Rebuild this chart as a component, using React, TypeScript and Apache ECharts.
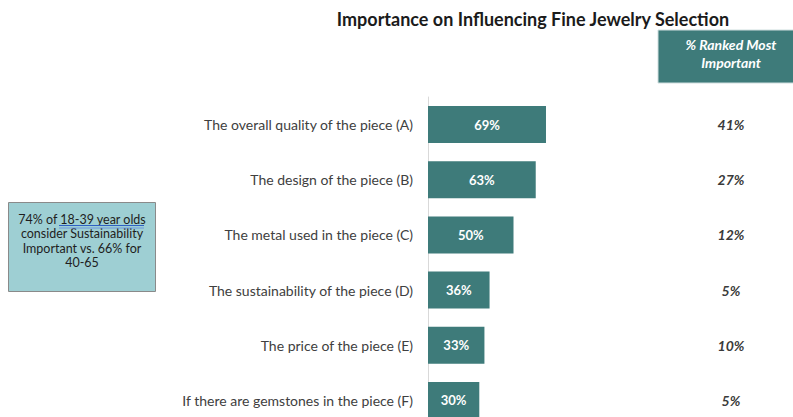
import React, { useEffect, useRef } from "react";
import * as echarts from "echarts";

const categories = [
  "The overall quality of the piece (A)",
  "The design of the piece (B)",
  "The metal used in the piece (C)",
  "The sustainability of the piece (D)",
  "The price of the piece (E)",
  "If there are gemstones in the piece (F)",
];
const importance = [69, 63, 50, 36, 33, 30];
const rankedMost = [41, 27, 12, 5, 10, 5];
const noteLines = [
  "74% of 18-39 year olds",
  "consider Sustainability",
  "Important vs. 66% for",
  "40-65",
];

const TEAL = "#3e7b7a";

export default function App() {
  const ref = useRef<HTMLDivElement>(null);
  useEffect(() => {
    if (!ref.current) return;
    const chart = echarts.init(ref.current, null, { renderer: "svg" });
    const font = "Lato, 'Open Sans', sans-serif";
    chart.setOption({
      animation: false,
      backgroundColor: "#ffffff",
      title: {
        text: "Importance on Influencing Fine Jewelry Selection",
        left: 528,
        textAlign: "center",
        top: 5,
        textStyle: {
          fontFamily: font,
          fontWeight: "bold",
          fontSize: 18,
          color: "#1b1b1b",
        },
      },
      grid: { left: 428, top: 97, width: 171, height: 331 },
      xAxis: {
        type: "value",
        min: 0,
        max: 100,
        show: false,
      },
      yAxis: [
        {
          type: "category",
          data: categories,
          inverse: true,
          axisLine: { show: true, lineStyle: { color: "#d9d9d9", width: 1 } },
          axisTick: { show: false },
          axisLabel: {
            margin: 15,
            fontFamily: font,
            fontSize: 14,
            color: "#404040",
            padding: [0, 0, 2, 0],
          },
        },
        {
          type: "category",
          data: rankedMost.map((v) => v + "%"),
          inverse: true,
          position: "right",
          axisLine: { show: false },
          axisTick: { show: false },
          axisLabel: {
            margin: 132,
            align: "center",
            fontFamily: font,
            fontStyle: "italic",
            fontWeight: "bold",
            fontSize: 14,
            color: "#3a3a3a",
            padding: [0, 0, 8, 0],
          },
        },
      ],
      series: [
        {
          type: "bar",
          data: importance,
          barWidth: 37,
          itemStyle: { color: TEAL },
          label: {
            show: true,
            position: "inside",
            formatter: "{c}%",
            color: "#ffffff",
            fontFamily: font,
            fontWeight: "bold",
            fontSize: 13,
          },
        },
      ],
      graphic: [
        {
          type: "rect",
          shape: { x: 658, y: 30, width: 140, height: 53 },
          style: { fill: TEAL, stroke: "#cfdede", lineWidth: 1 },
        },
        {
          type: "text",
          x: 731,
          y: 44,
          style: {
            text: "% Ranked Most",
            fill: "#ffffff",
            font: "italic bold 14px " + font,
            align: "center",
            verticalAlign: "middle",
          },
        },
        {
          type: "text",
          x: 731,
          y: 62,
          style: {
            text: "Important",
            fill: "#ffffff",
            font: "italic bold 14px " + font,
            align: "center",
            verticalAlign: "middle",
          },
        },
        {
          type: "rect",
          shape: { x: 8.5, y: 202.5, width: 147, height: 89 },
          style: { fill: "#9ecfd3", stroke: "#8a8a8a", lineWidth: 1 },
        },
        ...noteLines.map((t, i) => ({
          type: "text",
          x: 82,
          y: 219 + i * 14.5,
          style: {
            text: t,
            fill: "#1e1e1e",
            font: "12.5px " + font,
            align: "center",
            verticalAlign: "middle",
          },
        })),
        {
          type: "line",
          shape: { x1: 59, y1: 225.5, x2: 144, y2: 225.5 },
          style: { stroke: "#2f5fc4", lineWidth: 1 },
        },
        {
          type: "line",
          shape: { x1: 59, y1: 228, x2: 144, y2: 228 },
          style: { stroke: "#6f98e0", lineWidth: 1 },
        },
      ],
    });
    return () => chart.dispose();
  }, []);
  return (
    <div
      style={{
        position: "absolute",
        left: 0,
        top: 0,
        width: 793,
        height: 417,
        overflow: "hidden",
      }}
    >
      <div ref={ref} style={{ width: 793, height: 440 }} />
    </div>
  );
}
